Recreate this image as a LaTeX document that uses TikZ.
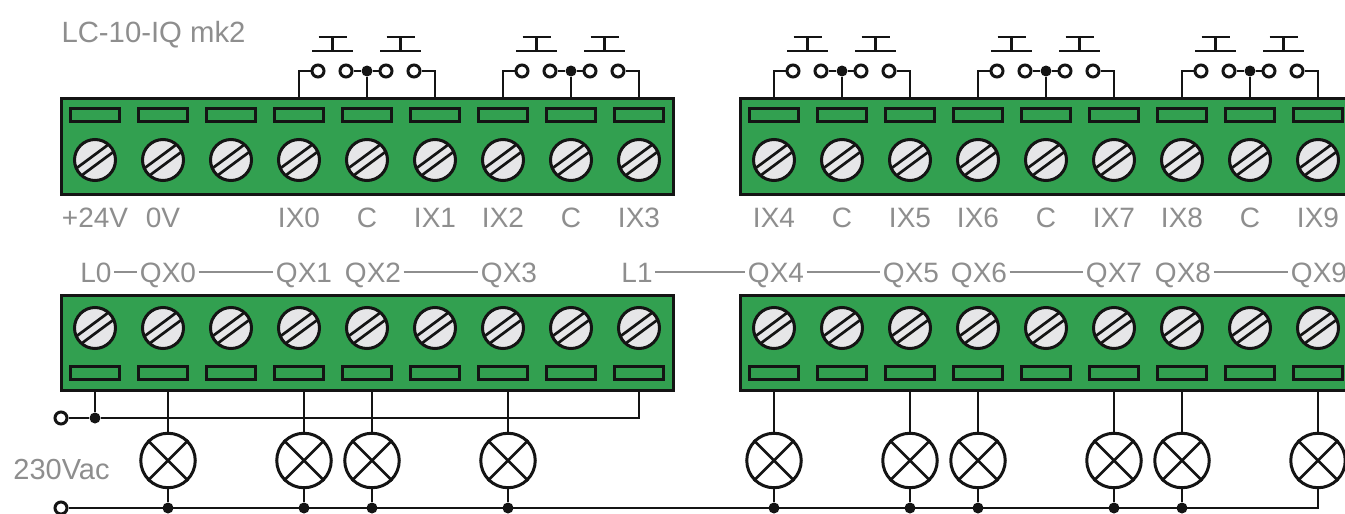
\documentclass[tikz,border=0pt]{standalone}
\usepackage{fontspec}
\setmainfont{Liberation Sans}
\definecolor{blockgreen}{HTML}{32A050}
\definecolor{screwgrey}{HTML}{E6E6E8}
\definecolor{ink}{HTML}{141414}
\definecolor{labelgrey}{HTML}{8E8E8E}
\tikzset{
  every picture/.style={x=1pt,y=-1pt},
  block/.style={draw=ink,fill=blockgreen,line width=3pt},
  slot/.style={draw=ink,fill=blockgreen,line width=3pt,minimum width=49.5pt,minimum height=13pt,inner sep=0pt},
  screw/.style={circle,draw=ink,fill=screwgrey,line width=3pt,minimum size=41pt,inner sep=0pt},
  wire/.style={draw=ink,line width=2.9pt},
  contact/.style={circle,draw=ink,fill=white,line width=3pt,minimum size=12pt,inner sep=0pt},
  junction/.style={circle,fill=ink,minimum size=11pt,inner sep=0pt},
  lamp/.style={circle,draw=ink,fill=white,line width=3pt,minimum size=54.5pt,inner sep=0pt},
  lbl/.style={text=labelgrey,font=\fontsize{28}{30}\selectfont,anchor=base,inner ysep=0pt,inner xsep=2.5pt,text height=21pt,text depth=0pt},
  rule/.style={draw=labelgrey,line width=2pt},
}
% terminal: slot + screw at x, slot y, screw y
\newcommand{\terminal}[4]{%
  \node[slot] (#1slot#2) at (#2,#3) {};
  \node[screw] (#1screw#2) at (#2,#4) {};
  \begin{scope}
    \clip (#2,#4) circle (19.5pt);
    \draw[ink,line width=2.7pt,shift={(#2,#4)}] (-25,13) -- (25,-24);
    \draw[ink,line width=2.7pt,shift={(#2,#4)}] (-25,24) -- (25,-13);
  \end{scope}
}
% pair of push buttons across three terminals
\newcommand{\buttons}[1]{%
  \pgfmathtruncatemacro{\xa}{#1}\pgfmathtruncatemacro{\xb}{#1+68}\pgfmathtruncatemacro{\xc}{#1+136}%
  \coordinate (p#1a) at (\xa,98);
  \coordinate (p#1b) at (\xb,98);
  \coordinate (p#1c) at (\xc,98);
  \node[contact] (c#1a) at (#1+19,71) {};
  \node[contact] (c#1b) at (#1+47,71) {};
  \node[contact] (c#1c) at (#1+87,71) {};
  \node[contact] (c#1d) at (#1+115,71) {};
  \node[junction] (j#1) at (\xb,71) {};
  \draw[wire] (p#1a) |- (c#1a);
  \draw[wire] (p#1c) |- (c#1d);
  \draw[wire] (p#1b) -- (j#1);
  \draw[wire] (c#1b) -- (j#1);
  \draw[wire] (j#1) -- (c#1c);
  \coordinate (ba#1) at (#1+33.5,51);
  \coordinate (bb#1) at (#1+101.5,51);
  \draw[wire] (ba#1) ++(-20.5,0) -- ++(41,0);
  \draw[wire] (ba#1) -- ++(0,-14) ++(-14,0) -- ++(28,0);
  \draw[wire] (bb#1) ++(-20.5,0) -- ++(41,0);
  \draw[wire] (bb#1) -- ++(0,-14) ++(-14,0) -- ++(28,0);
}
% lamp circuit from the block to the lower line
\newcommand{\lampcircuit}[1]{%
  \coordinate (lt#1) at (#1,390);
  \node[lamp] (lamp#1) at (#1,460.5) {};
  \draw[wire] (lt#1) -- (lamp#1);
  \draw[ink,line width=2.8pt] (lamp#1.45) -- (lamp#1.225) (lamp#1.135) -- (lamp#1.315);
}
\begin{document}
\begin{tikzpicture}
\useasboundingbox (0,0) rectangle (1345,514);
\clip (0,0) rectangle (1345,514);
\fill[white] (0,0) rectangle (1345,514);

% buttons go first, their wires end on the blocks
\foreach \s in {299,503,774,978,1182}{\buttons{\s}}

% blocks
\draw[block] (61,98) rectangle (673,194);
\draw[block] (740,98) rectangle (1365,194);
\draw[block] (61,295) rectangle (673,390);
\draw[block] (740,295) rectangle (1365,390);

\foreach \x in {95,163,231,299,367,435,503,571,639,774,842,910,978,1046,1114,1182,1250,1318}{
  \terminal{t}{\x}{115.3}{160}
  \terminal{b}{\x}{372.7}{328}
}

% top labels
\node[lbl,font=\fontsize{29.3}{31}\selectfont] (title) at (153.5,42) {LC-10-IQ mk2};
\foreach \x/\t in {95/+24V,163/0V,299/IX0,367/C,435/IX1,503/IX2,571/C,639/IX3,774/IX4,842/C,910/IX5,978/IX6,1046/C,1114/IX7,1182/IX8,1250/C,1318/IX9}{
  \node[lbl] (top\x) at (\x,227) {\t};
}

% bottom labels and their links
\foreach \x/\t in {96/L0,168/QX0,304/QX1,373/QX2,509/QX3,637/L1,776/QX4,911/QX5,979/QX6,1114/QX7,1183/QX8,1319/QX9}{
  \node[lbl] (bot\x) at (\x,282) {\t};
}
\draw[rule] (bot96) -- (bot168);
\draw[rule] (bot168) -- (bot304);
\draw[rule] (bot373) -- (bot509);
\draw[rule] (bot637) -- (bot776);
\draw[rule] (bot776) -- (bot911);
\draw[rule] (bot979) -- (bot1114);
\draw[rule] (bot1183) -- (bot1319);

\node[lbl,font=\fontsize{29}{31}\selectfont] (supply) at (61.5,479) {230Vac};

% supply lines
\node[contact] (inA) at (61,418) {};
\node[contact] (inB) at (61,508) {};
\node[junction] (jA) at (95,418) {};
\coordinate (l0t) at (95,390);
\coordinate (l1t) at (639,390);
\coordinate (l1c) at (639,418);
\draw[wire] (l0t) -- (jA);
\draw[wire] (inA) -- (jA) -- (l1c) -- (l1t);

\foreach \x in {168,304,372,508,774,910,978,1114,1182,1318}{\lampcircuit{\x}}

\coordinate (corner) at (1318,508);
\draw[wire] (inB) -- (corner) -- (lamp1318);
\foreach \x in {168,304,372,508,774,910,978,1114,1182}{
  \node[junction] (jb\x) at (\x,508) {};
  \draw[wire] (lamp\x) -- (jb\x);
}
\end{tikzpicture}
\end{document}
